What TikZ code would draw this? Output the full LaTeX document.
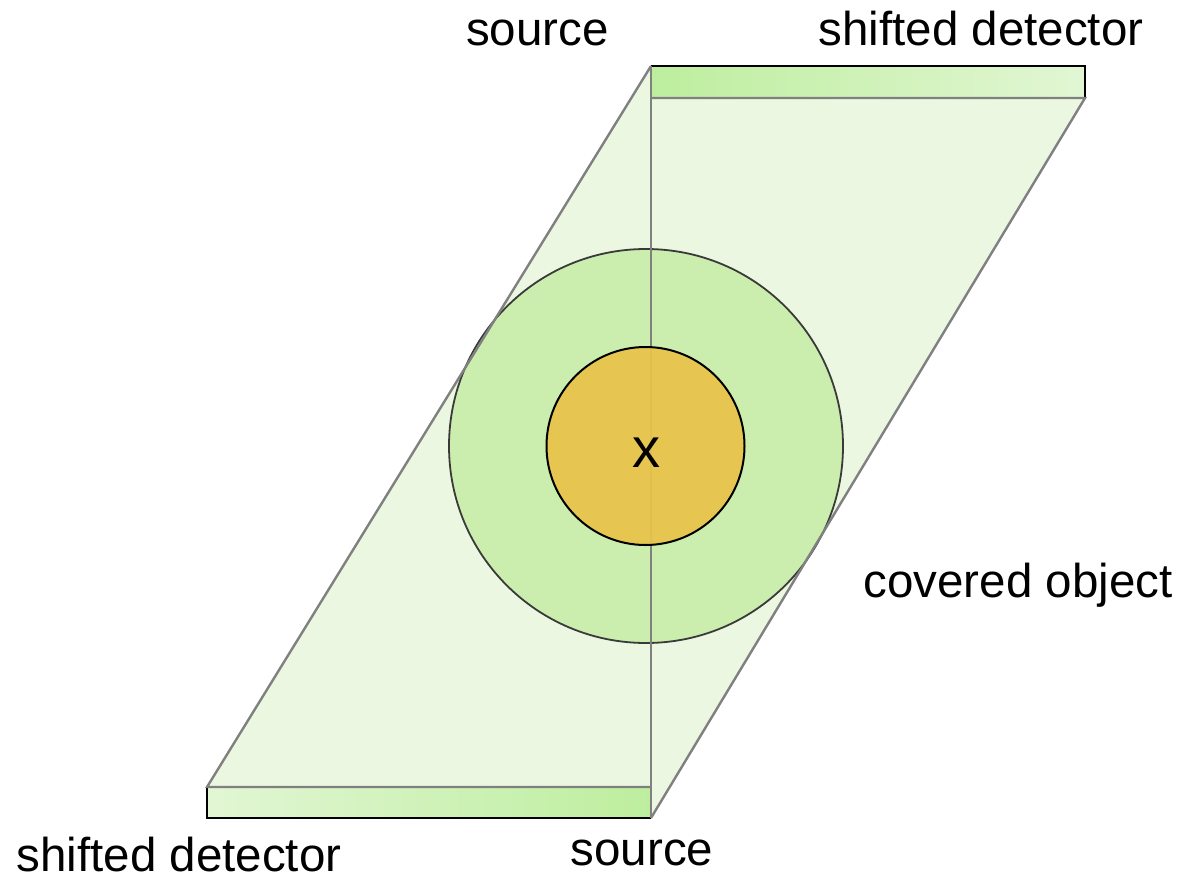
\documentclass[tikz,border=0pt]{standalone}
\usepackage{fontspec}
\setmainfont{Liberation Sans}
\definecolor{paral}{HTML}{EBF7E0}
\definecolor{outerc}{HTML}{CBEEAE}
\definecolor{innerc}{HTML}{E9C34B}
\definecolor{edgegray}{HTML}{808080}
\definecolor{darkedge}{HTML}{3A3A3A}
\definecolor{detbright}{HTML}{BDEE9E}
\definecolor{detlight}{HTML}{E2F6D4}
\tikzset{
  lbl/.style={font=\fontsize{47.5}{54}\selectfont, inner sep=0pt, anchor=base},
  beamedge/.style={draw=edgegray, line width=2.4pt},
  detbox/.style={draw=black, line width=2.2pt},
}
\begin{document}
\begin{tikzpicture}[x=1pt,y=-1pt]
\useasboundingbox (0,0) rectangle (1182,880);
% corner coordinates
\coordinate (tl) at (651,66);
\coordinate (tdl) at (651,98);
\coordinate (tdr) at (1085,98);
\coordinate (tdtr) at (1085,66);
\coordinate (bl) at (207,787);
\coordinate (bdr) at (651,787);
\coordinate (br) at (651,818);
\coordinate (bbl) at (207,818);
% beam region
\fill[paral] (tl) -- (bl) -- (bdr) -- (br) -- (tdr) -- (tdl) -- cycle;
% covered object
\node[circle, minimum size=394pt, inner sep=0pt, fill=outerc, draw=darkedge, line width=1.8pt] (obj) at (646,446) {};
% detectors
\shade[left color=detbright, right color=detlight] (tl) rectangle (tdr);
\draw[detbox] (tl) -- (tdtr) -- (tdr);
\shade[left color=detlight, right color=detbright] (bl) rectangle (br);
\draw[detbox] (bl) -- (bbl) -- (br);
% beam edges
\draw[beamedge] (tl) -- (bl) -- (bdr);
\draw[beamedge] (tdl) -- (tdr) -- (br);
\draw[beamedge] (tl) -- (br);
% inner object
\node[circle, minimum size=198pt, inner sep=0pt, fill=innerc, fill opacity=0.93, draw=black, line width=2pt] (core) at (645.5,446) {};
\node[font=\fontsize{56}{60}\selectfont, inner sep=0pt] (xl) at (646,452.5) {x};
% labels
\node[lbl] (src1) at (537.5,46) {source};
\node[lbl] (det1) at (981,46) {shifted detector};
\node[lbl] (cov) at (1018,597) {covered object};
\node[lbl] (src2) at (642,865) {source};
\node[lbl] (det2) at (179,871) {shifted detector};
\end{tikzpicture}
\end{document}
